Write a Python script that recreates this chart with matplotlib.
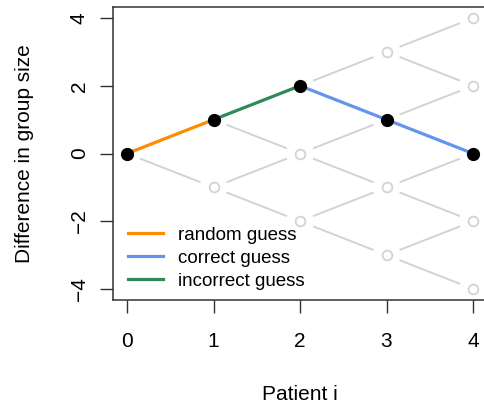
import numpy as np
import matplotlib.pyplot as plt

plt.rcParams['font.family'] = ['Liberation Sans', 'DejaVu Sans']

# patient index and the path actually taken
patients = [0, 1, 2, 3, 4]
path_diff = [0, 1, 2, 1, 0]
# kind of guess for each step of the path
step_kind = ['random guess', 'incorrect guess', 'correct guess', 'correct guess']
kind_colors = {'random guess': '#FF8C00',
               'correct guess': '#6495ED',
               'incorrect guess': '#2E8B57'}
legend_order = ['random guess', 'correct guess', 'incorrect guess']

fig = plt.figure(figsize=(4.85, 4.03), dpi=100)
ax = fig.add_axes([0.2334, 0.2561, 0.7705, 0.726])
ax.set_xlim(-0.16, 4.16)
ax.set_ylim(-4.32, 4.32)

# all reachable states: nodes (i, d) with |d| <= i and same parity
nodes = [(i, d) for i in patients for d in range(-i, i + 1, 2)]
edges = [((i, d), (i + 1, d + s)) for (i, d) in nodes if i < patients[-1] for s in (-1, 1)]

# grey lattice, with R type="b" style gaps near the points
gap = 14.0  # pixels
T = ax.transData
inv = T.inverted()
for (a, b) in edges:
    pa = T.transform(a)
    pb = T.transform(b)
    v = pb - pa
    u = v / np.hypot(*v)
    s = inv.transform(pa + u * gap)
    e = inv.transform(pb - u * gap)
    ax.plot([s[0], e[0]], [s[1], e[1]], color='#d3d3d3', lw=1.4, zorder=1,
            solid_capstyle='butt')

on_path = set(zip(patients, path_diff))
gx = [n[0] for n in nodes if n not in on_path]
gy = [n[1] for n in nodes if n not in on_path]
ax.plot(gx, gy, 'o', ms=7, mfc='white', mec='#d3d3d3', mew=1.3, ls='none', zorder=2)

for k in range(len(step_kind)):
    ax.plot(patients[k:k + 2], path_diff[k:k + 2], color=kind_colors[step_kind[k]],
            lw=2.3, zorder=3, solid_capstyle='butt')
ax.plot(patients, path_diff, 'o', color='black', ms=8.5, ls='none', zorder=4)

handles = [plt.Line2D([], [], color=kind_colors[k], lw=2.3) for k in legend_order]
ax.legend(handles, legend_order, loc='lower left', bbox_to_anchor=(0.04, 0.035),
          frameon=False, fontsize=13.5, handlelength=1.87, handletextpad=0.8,
          labelspacing=0.3, borderpad=0, borderaxespad=0)

ax.set_xticks(patients)
ax.set_yticks([-4, -2, 0, 2, 4])
ax.tick_params(direction='out', length=9.5, width=1, labelsize=15, pad=14, color='#333333')
for lbl in ax.get_yticklabels():
    lbl.set_rotation(90)
    lbl.set_va('center')
ax.tick_params(axis='y', pad=8)
for sp in ax.spines.values():
    sp.set_linewidth(1.1)
    sp.set_color('#333333')

ax.set_xlabel('Patient i', fontsize=15, labelpad=24.5)
ax.set_ylabel('Difference in group size', fontsize=15, labelpad=26)

fig.savefig('out.png', dpi=100)
